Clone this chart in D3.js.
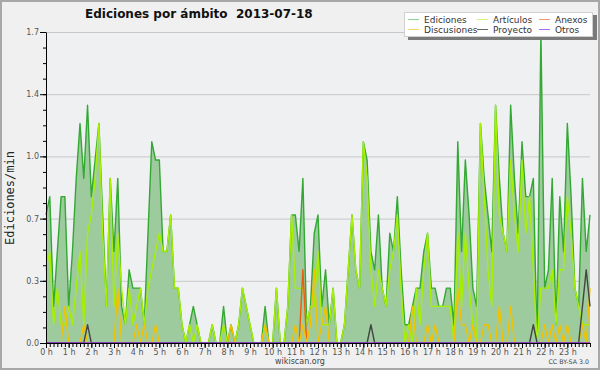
<!DOCTYPE html>
<html>
<head>
<meta charset="utf-8">
<script src="https://cdn.jsdelivr.net/npm/d3@7"></script>
<style>
  body { margin: 0; background: #f0f0f0; }
  svg { display: block; font-family: "DejaVu Sans", sans-serif; }
</style>
</head>
<body>
<script>
// ediciones por minuto, un valor cada 10 minutos (0:00 .. 24:00)
const ediciones = [
  0.7,0.8,0.2,0.5,0.8,0.8,0.2,0.5,0.9,1.2,
  0.9,1.3,0.8,1.0,1.2,0.7,0.2,0.9,0.5,0.9,
  0.2,0.1,0.4,0.3,0.3,0.3,0.1,0.6,1.1,1.0,
  1.0,0.5,0.5,0.7,0.3,0.3,0.1,0,0.1,0.2,
  0.1,0,0,0,0.1,0,0,0.2,0,0.1,
  0,0.1,0.3,0.2,0.1,0,0,0,0.2,0,
  0,0.3,0,0,0.2,0.7,0.7,0.5,0.9,0.1,
  0.2,0.6,0.7,0.2,0.4,0.1,0.3,0,0,0.1,
  0.4,0.7,0.4,0.3,1.1,1.0,0.5,0.4,0.7,0.3,
  0.2,0.6,0.5,0.8,0.4,0.1,0.1,0.2,0.3,0.3,
  0.5,0.6,0.3,0.3,0.2,0.2,0.3,0.3,0.1,1.1,
  0.5,1.0,0.7,0.3,0.2,1.2,0.9,0.7,0.5,1.3,
  0.9,0.6,0.5,1.3,0.9,0.6,1.1,0.8,0.8,0.9,
  0,1.7,0.3,0.4,0.9,0.1,0.8,0.5,1.2,0.8,
  0.3,0.2,0.9,0.5,0.7
];
const articulos = [
  0.4,0.5,0.1,0.3,0.1,0.1,0.2,0.1,0.3,0.5,
  0.1,0.6,0.7,0.9,1.2,0.6,0.2,0.9,0.2,0.6,
  0.3,0.1,0.3,0.1,0.2,0.3,0.1,0.3,0.4,0.5,
  0.6,0.5,0.5,0.7,0.3,0.3,0.1,0,0.1,0,
  0.1,0,0,0,0.1,0,0,0.1,0,0,
  0,0.1,0.3,0.2,0.1,0,0,0,0.1,0,
  0,0.3,0,0,0.2,0.7,0.3,0.3,0.3,0.1,
  0.2,0.2,0.5,0.1,0.1,0.1,0.3,0,0,0.1,
  0.4,0.7,0.4,0.3,1.1,0.9,0.4,0.2,0.4,0.3,
  0.2,0.4,0.5,0.7,0.3,0,0.1,0,0.3,0.1,
  0.4,0.6,0.2,0.2,0.2,0.2,0.2,0.2,0,0.6,
  0.2,0.6,0.3,0.1,0,1.2,0.8,0.4,0.2,1.3,
  0.7,0.6,0.5,1.0,0.7,0.5,1.0,0.6,0.8,0.4,
  0,0.3,0.3,0.3,0.4,0.1,0.4,0.4,0.8,0.6,
  0.3,0.2,0.1,0.1,0.1
];
const anexos = [
  0,0,0,0,0,0,0,0,0,0,
  0,0,0,0,0,0,0,0,0,0,
  0,0,0,0,0,0,0,0,0,0,
  0,0,0,0,0,0,0,0,0,0,
  0,0,0,0,0,0,0,0,0,0,
  0,0,0,0,0,0,0,0,0,0,
  0,0,0,0,0,0,0,0,0.4,0,
  0,0,0,0,0,0,0,0,0,0,
  0,0,0,0,0,0,0,0,0,0,
  0,0,0,0,0,0,0,0,0,0,
  0,0,0,0,0,0,0,0,0,0,
  0,0,0,0,0,0,0,0,0,0,
  0,0,0,0,0,0,0,0,0,0,
  0,0,0,0,0,0,0,0,0,0,
  0,0,0,0,0
];
const discusiones = [
  0,0,0,0,0,0.2,0,0,0,0,
  0.1,0,0,0,0,0,0,0,0,0.3,
  0,0,0,0,0.1,0,0.1,0,0,0.1,
  0,0,0,0,0,0,0,0,0,0,
  0,0,0,0,0,0,0,0,0,0.1,
  0,0,0,0,0,0,0,0,0.1,0,
  0,0,0,0,0,0,0.1,0,0.1,0,
  0.1,0.4,0,0.1,0.2,0,0,0,0,0,
  0,0,0,0,0,0,0,0,0,0,
  0,0,0,0,0,0,0,0.2,0,0,
  0,0.1,0,0.1,0,0,0,0,0,0.3,
  0.1,0.1,0,0.1,0,0,0.1,0.1,0,0,
  0.2,0,0,0.2,0,0,0,0,0,0,
  0,0,0.1,0,0.1,0,0.1,0,0.1,0,
  0,0,0.1,0,0.3
];
const proyecto = [
  0,0,0,0,0,0,0,0,0,0,
  0,0.1,0,0,0,0,0,0,0,0,
  0,0,0,0,0,0,0,0,0,0,
  0,0,0,0,0,0,0,0,0,0,
  0,0,0,0,0,0,0,0,0,0,
  0,0,0,0,0,0,0,0,0,0,
  0,0,0,0,0,0,0,0,0,0,
  0,0,0,0,0,0,0,0,0,0,
  0,0,0,0,0,0,0.1,0,0,0,
  0,0,0,0,0,0,0,0,0,0,
  0,0,0,0,0,0,0,0,0,0,
  0,0,0,0,0,0,0,0,0,0,
  0,0,0,0,0,0,0,0,0,0.1,
  0,0,0,0,0,0,0,0,0,0,
  0,0,0.2,0.4,0.2
];
const otros = [
  0,0,0,0,0,0,0,0,0,0,
  0,0,0,0,0,0,0,0,0,0,
  0,0,0,0,0,0,0,0,0,0,
  0,0,0,0,0,0,0,0,0,0,
  0,0,0,0,0,0,0,0,0,0,
  0,0,0,0,0,0,0,0,0,0,
  0,0,0,0,0,0,0,0,0,0,
  0,0,0,0,0,0,0,0,0,0,
  0,0,0,0,0,0,0,0,0,0,
  0,0,0,0,0,0,0,0,0,0,
  0,0,0,0,0,0,0,0,0,0,
  0,0,0,0,0,0,0,0,0,0,
  0,0,0,0,0,0,0,0,0,0,
  0,0,0,0,0,0,0,0,0,0,
  0,0,0,0,0
];
const yTicks = [0, 0.34, 0.68, 1.02, 1.36, 1.7];
const hours = [0,1,2,3,4,5,6,7,8,9,10,11,12,13,14,15,16,17,18,19,20,21,22,23];

const series = [
  { name: "Ediciones",   values: ediciones,   color: "#33a833", legend: "#8fd38f" },
  { name: "Artículos",   values: articulos,   color: "#a6f000", legend: "#d4f77a" },
  { name: "Anexos",      values: anexos,      color: "#f05a10", legend: "#f59a6a" },
  { name: "Discusiones", values: discusiones, color: "#f2c200", legend: "#f7d86a" },
  { name: "Proyecto",    values: proyecto,    color: "#444444", legend: "#666666" },
  { name: "Otros",       values: otros,       color: "#8a3df0", legend: "#a070f0" }
];

const width = 600, height = 370;
const x = d3.scaleLinear().domain([0, 24]).range([46, 590]);
const y = d3.scaleLinear().domain([0, 1.7]).range([343, 32]);
const step = i => x(i / 6);   // 10 minutos por punto

const svg = d3.select("body").append("svg")
  .attr("width", width)
  .attr("height", height);

// fondo y marco
svg.append("rect")
  .attr("x", 1).attr("y", 1)
  .attr("width", width - 2).attr("height", height - 2)
  .attr("fill", "#f0f0f0")
  .attr("stroke", "#a8a8a8")
  .attr("stroke-width", 2);

svg.append("rect")
  .attr("x", x(0)).attr("y", y(1.7))
  .attr("width", x(24) - x(0)).attr("height", y(0) - y(1.7))
  .attr("fill", "#eef0f2");

// rejilla horizontal
svg.append("g").selectAll("line")
  .data(yTicks.slice(1))
  .join("line")
  .attr("x1", x(0)).attr("x2", x(24))
  .attr("y1", d => y(d) + 0.5).attr("y2", d => y(d) + 0.5)
  .attr("stroke", "#c8c8c8");

// area total
svg.append("path")
  .datum(ediciones)
  .attr("d", d3.area().x((d, i) => step(i)).y0(y(0)).y1(d => y(d)))
  .attr("fill", "#9dcb9d");

const line = d3.line().x((d, i) => step(i)).y(d => y(d));
series.forEach(s => {
  svg.append("path")
    .datum(s.values)
    .attr("d", line)
    .attr("fill", "none")
    .attr("stroke", s.color)
    .attr("stroke-width", 1.4)
    .attr("stroke-linejoin", "round");
});

// ejes
const yAxis = svg.append("g")
  .attr("transform", `translate(${x(0)},0)`)
  .call(d3.axisLeft(y).tickValues(yTicks).tickFormat(d3.format(".1f"))
    .tickSize(6).tickSizeOuter(0).tickPadding(1));
svg.append("g")
  .attr("transform", `translate(${x(0)},0)`)
  .call(d3.axisLeft(y).tickValues(d3.range(0, 1.7, 0.085)).tickFormat("").tickSize(3))
  .call(g => g.select(".domain").remove());

const xAxis = svg.append("g")
  .attr("transform", `translate(0,${y(0)})`)
  .call(d3.axisBottom(x).tickValues(hours).tickFormat(d => d + " h")
    .tickSize(5).tickSizeOuter(0).tickPadding(1));
svg.append("g")
  .attr("transform", `translate(0,${y(0)})`)
  .call(d3.axisBottom(x).tickValues(d3.range(0, 24.01, 1 / 6)).tickFormat("").tickSize(4))
  .call(g => g.select(".domain").remove());

[yAxis, xAxis].forEach(g => {
  g.selectAll("text").attr("font-size", 8).attr("fill", "#555")
    .attr("font-family", "DejaVu Sans");
  g.select(".domain").attr("stroke", "#000");
});

// textos
svg.append("text")
  .attr("x", 85).attr("y", 18)
  .attr("font-size", 12).attr("font-weight", "bold").attr("fill", "#111")
  .style("white-space", "pre")
  .text("Ediciones por ámbito  2013-07-18");

svg.append("text")
  .attr("transform", "translate(14,198) rotate(-90)")
  .attr("text-anchor", "middle")
  .attr("font-family", "DejaVu Sans Mono")
  .attr("font-size", 12).attr("fill", "#222")
  .text("Ediciones/min");

svg.append("text")
  .attr("x", 300).attr("y", 364)
  .attr("text-anchor", "middle")
  .attr("font-size", 8).attr("fill", "#444")
  .text("wikiscan.org");

svg.append("text")
  .attr("x", 589).attr("y", 364)
  .attr("text-anchor", "end")
  .attr("font-size", 6.3).attr("fill", "#444")
  .text("CC BY-SA 3.0");

// leyenda
const legend = svg.append("g");
legend.append("rect")
  .attr("x", 408).attr("y", 15).attr("width", 189).attr("height", 25)
  .attr("fill", "#7a7a7a");
legend.append("rect")
  .attr("x", 404.5).attr("y", 12.5).attr("width", 188).attr("height", 24)
  .attr("fill", "#fff").attr("stroke", "#d0d0d0");

const legendOrder = ["Ediciones", "Artículos", "Anexos", "Discusiones", "Proyecto", "Otros"];
const colX = [408, 477, 539];
const rowY = [19, 29];
legendOrder.forEach((name, k) => {
  const s = series.find(d => d.name === name);
  const cx = colX[k % 3], cy = rowY[Math.floor(k / 3)];
  legend.append("line")
    .attr("x1", cx).attr("x2", cx + 11)
    .attr("y1", cy + 0.5).attr("y2", cy + 0.5)
    .attr("stroke", s.legend);
  legend.append("text")
    .attr("x", cx + 16).attr("y", cy + 3.5)
    .attr("font-size", 9).attr("fill", "#333")
    .text(name);
});
</script>
</body>
</html>
